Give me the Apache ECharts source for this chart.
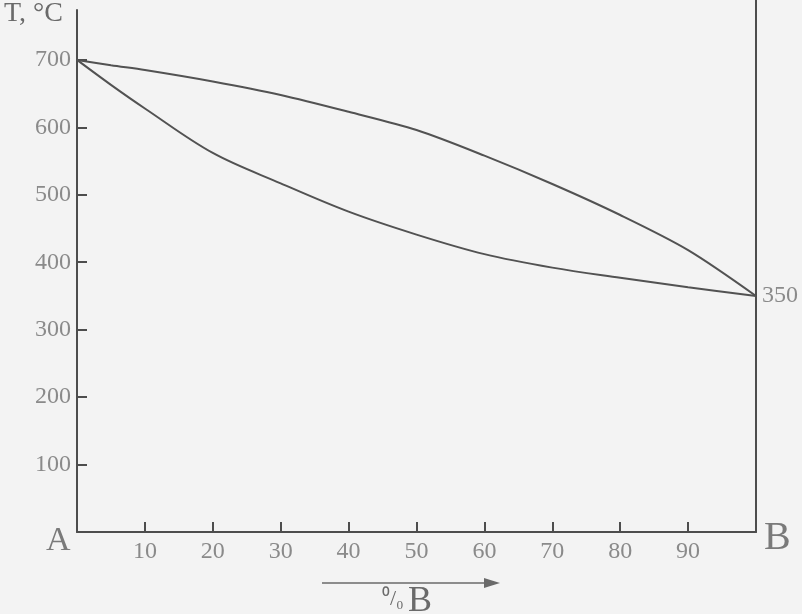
<!DOCTYPE html>
<html>
<head>
<meta charset="utf-8">
<script src="https://cdn.jsdelivr.net/npm/echarts@6/dist/echarts.min.js"></script>
<style>
html,body{margin:0;padding:0;background:#f3f3f3;}
#c{width:802px;height:614px;}
</style>
</head>
<body>
<div id="c"></div>
<script>
// Composition, % B
const xs = [0, 5, 10, 20, 30, 40, 50, 60, 70, 80, 90, 100];
// Upper curve (liquidus-like), T °C
const upperT = [700, 692, 685, 668, 648, 623, 596, 558, 516, 470, 418, 350];
// Lower curve (solidus-like), T °C
const lowerT = [700, 663, 628, 562, 517, 475, 441, 412, 392, 377, 363, 350];
const xTickValues = [10, 20, 30, 40, 50, 60, 70, 80, 90];
const yTickValues = [100, 200, 300, 400, 500, 600, 700];

const axisColor = '#4d4d4d';
const labelColor = '#8a8a8a';
const serif = '"Liberation Serif", "DejaVu Serif", serif';

const chart = echarts.init(document.getElementById('c'), null, {renderer: 'canvas'});
const toPairs = (arr) => xs.map((x, i) => [x, arr[i]]);

chart.setOption({
  backgroundColor: '#f3f3f3',
  animation: false,
  grid: {left: 77, right: 46, top: 10, bottom: 82},
  xAxis: {
    type: 'value', min: 0, max: 100,
    axisLine: {show: true, lineStyle: {color: axisColor, width: 2}},
    axisTick: {show: true, inside: true, length: 10, customValues: xTickValues, lineStyle: {color: axisColor, width: 2}},
    axisLabel: {customValues: xTickValues, color: labelColor, fontFamily: serif, fontSize: 24, margin: 8},
    splitLine: {show: false}
  },
  yAxis: [{
    type: 'value', min: 0, max: 774,
    axisLine: {show: true, lineStyle: {color: axisColor, width: 2}},
    axisTick: {show: true, inside: true, length: 10, customValues: yTickValues, lineStyle: {color: axisColor, width: 2}},
    axisLabel: {customValues: yTickValues, color: labelColor, fontFamily: serif, fontSize: 24, margin: 6},
    splitLine: {show: false}
  }, {
    type: 'value', min: 0, max: 774, position: 'right',
    axisLine: {show: true, lineStyle: {color: axisColor, width: 2}},
    axisTick: {show: false}, axisLabel: {show: false}, splitLine: {show: false}
  }],
  series: [{
    type: 'line', data: toPairs(upperT), smooth: 0.3, symbol: 'none',
    lineStyle: {color: '#525252', width: 2}
  }, {
    type: 'line', data: toPairs(lowerT), smooth: 0.35, symbol: 'none',
    lineStyle: {color: '#525252', width: 2},
    endLabel: {show: true, formatter: (p) => String(p.value[1]), color: labelColor, fontFamily: serif, fontSize: 24, distance: 6}
  }],
  graphic: [
    {id: 'tlabel', type: 'text', left: 4, top: 0, style: {text: 'T, °C', font: 'normal 28px "Liberation Serif"', fill: '#6a6a6a'}},
    {id: 'alabel', type: 'text', left: 46, top: 524, style: {text: 'A', font: 'normal 34px "Liberation Serif"', fill: '#7a7a7a'}},
    {id: 'blabel', type: 'text', left: 764, top: 518, style: {text: 'B', font: 'normal 40px "Liberation Serif"', fill: '#7a7a7a'}},
    {id: 'arrowLine', type: 'line', shape: {x1: 322, y1: 583, x2: 494, y2: 583}, style: {stroke: '#6a6a6a', lineWidth: 1.5}},
    {id: 'arrowHead', type: 'polygon', shape: {points: [[484, 578], [500, 583], [484, 588]]}, style: {fill: '#6a6a6a'}},
    {id: 'pct', type: 'text', left: 382, top: 588, style: {text: '⁰/₀', font: 'normal 22px "Liberation Serif"', fill: '#6a6a6a'}},
    {id: 'pctB', type: 'text', left: 408, top: 584, style: {text: 'B', font: 'normal 36px "Liberation Serif"', fill: '#6a6a6a'}}
  ]
});

// extend right frame line to the top of the picture
const rx = chart.convertToPixel({xAxisIndex: 0}, 100);
const ry = chart.convertToPixel({yAxisIndex: 0}, 774);
chart.setOption({graphic: [{id: 'rightTop', type: 'line', shape: {x1: rx, y1: 0, x2: rx, y2: ry}, style: {stroke: axisColor, lineWidth: 2}}]});
</script>
</body>
</html>
